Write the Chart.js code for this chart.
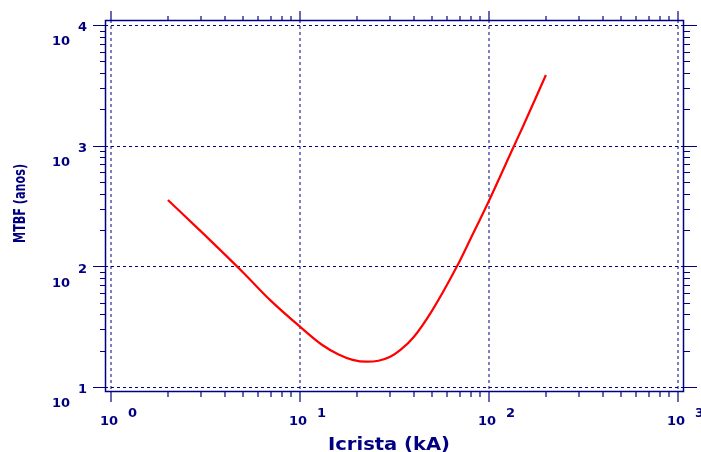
<!DOCTYPE html>
<html>
<head>
<meta charset="utf-8">
<title>MTBF x Icrista</title>
<style>
  html, body { margin: 0; padding: 0; background: #fff; }
  #chart { display: block; }
</style>
</head>
<body>
<canvas id="chart" width="701" height="452"></canvas>
<script src="https://cdn.jsdelivr.net/npm/chart.js"></script>
<script>
// values
const icrista = [2, 3, 5, 7, 10, 13, 16, 19, 22.5, 26, 30, 34, 40, 50, 67.5, 80, 100, 135, 150, 200];
const mtbf = [355, 194, 89, 52, 31.6, 22.5, 18.6, 16.8, 16.2, 16.5, 17.8, 20.3, 26, 43, 99, 170, 350, 980, 1400, 3850];

const xDecades = [1, 10, 100, 1000];
const xExponents = ['0', '1', '2', '3'];
const yDecades = [10, 100, 1000, 10000];
const yExponents = ['1', '2', '3', '4'];

const xTitle = 'Icrista (kA)';
const yTitle = 'MTBF (anos)';

const NAVY = '#000080';
const LABEL_FONT = 'bold 13px "DejaVu Sans"';

function minorTicks(decades) {
    const out = [];
    for (let i = 0; i < decades.length - 1; i++) {
        for (let m = 2; m <= 9; m++) out.push(decades[i] * m);
    }
    return out;
}

function fitText(ctx, text, cx, cy, width, rot) {
    ctx.save();
    ctx.translate(cx, cy);
    ctx.rotate(rot);
    const w = ctx.measureText(text).width;
    ctx.scale(width / w, 1);
    ctx.textAlign = 'center';
    ctx.textBaseline = 'middle';
    ctx.fillText(text, 0, 0);
    ctx.restore();
}

function line(ctx, x1, y1, x2, y2) {
    ctx.beginPath();
    ctx.moveTo(x1, y1);
    ctx.lineTo(x2, y2);
    ctx.stroke();
}

const frame = {
    id: 'frame',
    beforeDatasetsDraw(chart) {
        const { ctx, chartArea: a, scales: { x, y } } = chart;
        ctx.save();
        ctx.strokeStyle = NAVY;
        ctx.lineWidth = 1;
        ctx.setLineDash([3, 3]);
        xDecades.forEach(v => {
            const px = Math.round(x.getPixelForValue(v));
            line(ctx, px, a.top, px, a.bottom);
        });
        yDecades.forEach(v => {
            const py = Math.round(y.getPixelForValue(v)) + 0.5;
            line(ctx, a.left, py, a.right, py);
        });
        ctx.restore();
    },
    afterDraw(chart) {
        const { ctx, chartArea: a, scales: { x, y } } = chart;
        ctx.save();
        ctx.strokeStyle = NAVY;
        ctx.fillStyle = NAVY;

        // box
        ctx.lineWidth = 1.5;
        ctx.strokeRect(a.left + 0.5, a.top + 0.5, a.right - a.left, a.bottom - a.top);

        // y ticks, left and right
        ctx.lineWidth = 1;
        yDecades.forEach(v => {
            const py = Math.round(y.getPixelForValue(v)) + 0.5;
            line(ctx, a.left - 12, py, a.left, py);
            line(ctx, a.right, py, a.right + 14, py);
        });
        minorTicks(yDecades).forEach(v => {
            const py = Math.round(y.getPixelForValue(v)) + 0.5;
            line(ctx, a.left - 5, py, a.left, py);
            line(ctx, a.right, py, a.right + 7, py);
        });

        // x ticks, bottom and top
        ctx.lineWidth = 1.2;
        xDecades.forEach(v => {
            const px = Math.round(x.getPixelForValue(v));
            line(ctx, px, a.bottom, px, a.bottom + 11);
            line(ctx, px, a.top, px, a.top - 9);
        });
        minorTicks(xDecades).forEach(v => {
            const px = Math.round(x.getPixelForValue(v));
            line(ctx, px, a.bottom, px, a.bottom + 6);
            line(ctx, px, a.top, px, a.top - 4);
        });

        // tick labels 10^n
        ctx.font = LABEL_FONT;
        ctx.textBaseline = 'middle';
        yDecades.forEach((v, i) => {
            const py = y.getPixelForValue(v);
            ctx.textAlign = 'right';
            ctx.fillText('10', a.left - 35, py + 17);
            ctx.textAlign = 'left';
            ctx.fillText(yExponents[i], a.left - 27, py + 3);
        });
        xDecades.forEach((v, i) => {
            const px = x.getPixelForValue(v);
            ctx.textAlign = 'center';
            ctx.fillText('10', px - 2, a.bottom + 31);
            ctx.textAlign = 'left';
            ctx.fillText(xExponents[i], px + 17, a.bottom + 23);
        });

        // axis titles
        ctx.font = 'bold 18px "DejaVu Sans"';
        fitText(ctx, xTitle, (a.left + a.right) / 2 - 5, a.bottom + 54, 122, 0);
        ctx.font = 'bold 16px "DejaVu Sans"';
        fitText(ctx, yTitle, 21, (a.top + a.bottom) / 2 - 2, 79, -Math.PI / 2);

        ctx.restore();
    }
};

window.addEventListener('load', () => {
    new Chart(document.getElementById('chart'), {
        type: 'scatter',
        data: {
            datasets: [{
                data: icrista.map((v, i) => ({ x: v, y: mtbf[i] })),
                showLine: true,
                borderColor: '#ff0000',
                borderWidth: 2.2,
                pointRadius: 0,
                cubicInterpolationMode: 'monotone',
                fill: false
            }]
        },
        options: {
            responsive: false,
            animation: false,
            events: [],
            layout: { padding: { left: 105, top: 20, right: 18, bottom: 61 } },
            plugins: { legend: { display: false }, tooltip: { enabled: false } },
            scales: {
                x: { type: 'logarithmic', display: false, min: Math.pow(10, -6 / 189), max: Math.pow(10, 3 + 5 / 189) },
                y: { type: 'logarithmic', display: false, min: Math.pow(10, 1 - 4 / 120.67), max: Math.pow(10, 4 + 5 / 120.67) }
            }
        },
        plugins: [frame]
    });
});
</script>
</body>
</html>
